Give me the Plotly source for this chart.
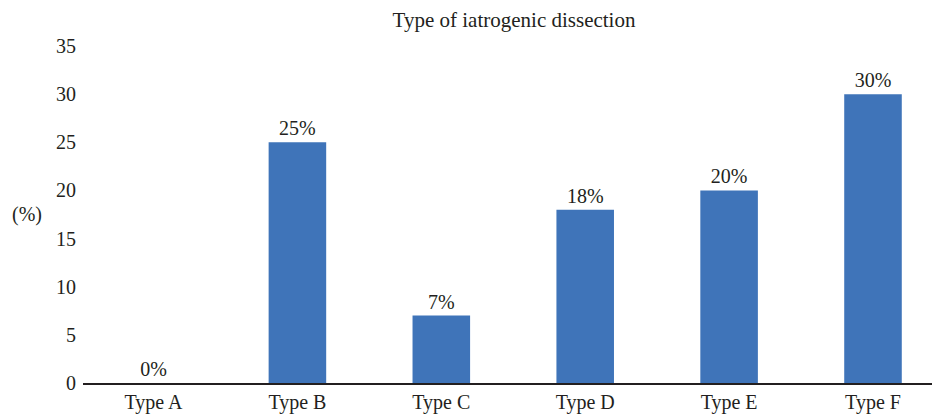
import plotly.graph_objects as go

categories = ["Type A", "Type B", "Type C", "Type D", "Type E", "Type F"]
values = [0, 25, 7, 18, 20, 30]
labels = ["0%", "25%", "7%", "18%", "20%", "30%"]

FONT = "Liberation Serif, Times New Roman, serif"
INK = "#231f20"
FS = 20

fig = go.Figure(go.Bar(
    x=categories, y=values, text=labels, textposition="outside",
    textfont=dict(family=FONT, size=FS, color=INK),
    marker=dict(color="#3f74b9", line=dict(width=0)),
    width=0.4, cliponaxis=False,
))

fig.update_layout(
    width=932, height=415,
    margin=dict(l=83, r=0, t=46, b=32, autoexpand=False),
    paper_bgcolor="white", plot_bgcolor="white",
    showlegend=False,
    font=dict(family=FONT, size=FS, color=INK),
    title=dict(text="Type of iatrogenic dissection", x=(514 - 83) / 849, xref="paper",
               xanchor="center", y=395 / 415, yref="container", yanchor="middle",
               font=dict(family=FONT, size=21, color=INK)),
    xaxis=dict(range=[-0.49, 5.41], showline=True, linecolor=INK, linewidth=1.5,
               ticks="", showgrid=False, automargin=False,
               tickfont=dict(family=FONT, size=FS, color=INK)),
    yaxis=dict(range=[0, 35], dtick=5, showline=False, showgrid=False, zeroline=False,
               ticks="", automargin=False, ticklabelstandoff=6,
               tickfont=dict(family=FONT, size=FS, color=INK)),
    annotations=[dict(text="(%)", x=(27 - 83) / 849, y=17.5, xref="paper", yref="y",
                      showarrow=False, xanchor="center", yanchor="middle",
                      font=dict(family=FONT, size=FS, color=INK))],
)

fig.write_html("out.html", config={"displayModeBar": False},
               post_script="document.body.style.margin='0';document.body.style.overflow='hidden';")
